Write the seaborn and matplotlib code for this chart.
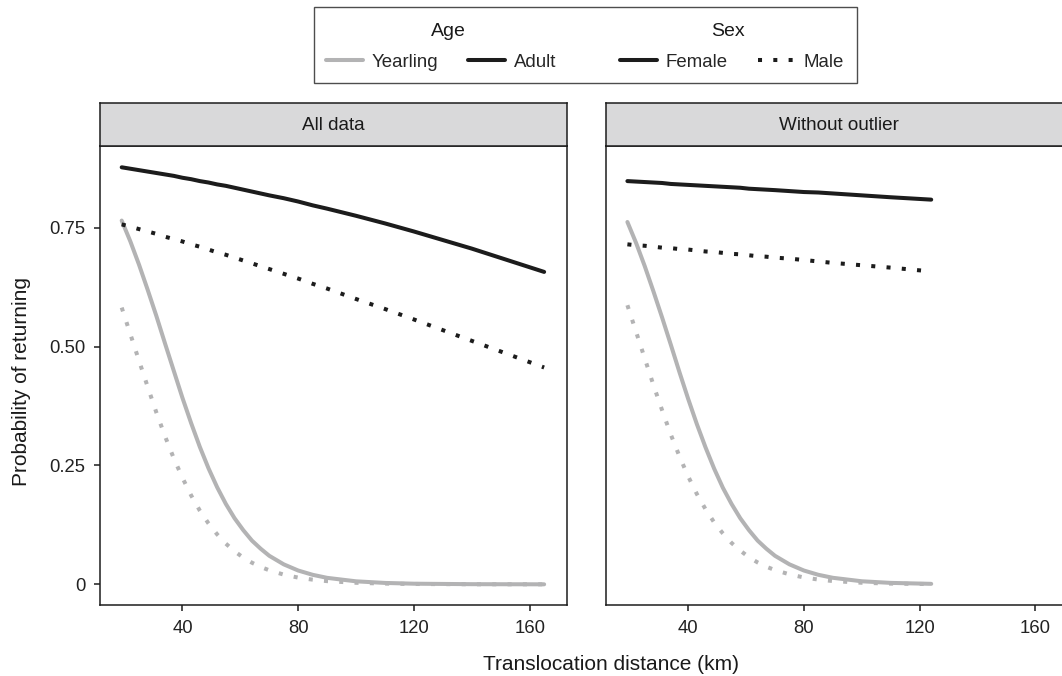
import pandas as pd
import seaborn as sns
import matplotlib.pyplot as plt
from matplotlib.lines import Line2D
from matplotlib.patches import Rectangle

# distances (km) at which the fitted curves were read
dist_all = [19, 22, 25, 28, 31, 34, 37, 40, 43, 46, 49, 52, 55, 58, 61, 64, 67, 70,
            75, 80, 85, 90, 100, 110, 120, 140, 165]
dist_wo = [19, 22, 25, 28, 31, 34, 37, 40, 43, 46, 49, 52, 55, 58, 61, 64, 67, 70,
           75, 80, 85, 90, 100, 110, 124]

# All data
yearling_female_all = [0.765, 0.721, 0.672, 0.619, 0.564, 0.506, 0.449, 0.392, 0.339, 0.289,
                       0.244, 0.204, 0.169, 0.139, 0.114, 0.092, 0.075, 0.060, 0.042, 0.029,
                       0.020, 0.0136, 0.0063, 0.0029, 0.0013, 0.0003, 0.0]
yearling_male_all = [0.582, 0.526, 0.470, 0.415, 0.361, 0.311, 0.265, 0.224, 0.187, 0.155,
                     0.128, 0.105, 0.0855, 0.0695, 0.0563, 0.0455, 0.0366, 0.0295, 0.0204,
                     0.0141, 0.0098, 0.0067, 0.0032, 0.0015, 0.0007, 0.0001, 0.0]
adult_female_all = [0.877, 0.874, 0.871, 0.868, 0.865, 0.862, 0.859, 0.855, 0.852, 0.848,
                    0.845, 0.841, 0.838, 0.834, 0.830, 0.826, 0.822, 0.818, 0.812, 0.805,
                    0.797, 0.790, 0.775, 0.759, 0.742, 0.706, 0.657]
adult_male_all = [0.757, 0.752, 0.747, 0.742, 0.737, 0.731, 0.726, 0.721, 0.715, 0.710,
                  0.704, 0.698, 0.693, 0.687, 0.681, 0.675, 0.669, 0.663, 0.653, 0.643,
                  0.632, 0.622, 0.600, 0.579, 0.557, 0.512, 0.456]

# Without outlier
yearling_female_wo = [0.762, 0.718, 0.669, 0.616, 0.561, 0.504, 0.446, 0.390, 0.337, 0.288,
                      0.243, 0.203, 0.169, 0.139, 0.114, 0.092, 0.075, 0.060, 0.042, 0.029,
                      0.020, 0.0137, 0.0064, 0.003, 0.001]
yearling_male_wo = [0.587, 0.531, 0.475, 0.419, 0.366, 0.315, 0.269, 0.227, 0.190, 0.158,
                    0.130, 0.107, 0.087, 0.071, 0.057, 0.046, 0.037, 0.030, 0.021, 0.0144,
                    0.0100, 0.0069, 0.0033, 0.0015, 0.0005]
adult_female_wo = [0.848, 0.847, 0.846, 0.845, 0.844, 0.842, 0.841, 0.840, 0.839, 0.838,
                   0.837, 0.836, 0.835, 0.834, 0.832, 0.831, 0.830, 0.829, 0.827, 0.825,
                   0.824, 0.822, 0.818, 0.814, 0.809]
adult_male_wo = [0.715, 0.713, 0.712, 0.710, 0.708, 0.707, 0.705, 0.704, 0.702, 0.700,
                 0.699, 0.697, 0.695, 0.694, 0.692, 0.690, 0.689, 0.687, 0.685, 0.682,
                 0.679, 0.676, 0.671, 0.666, 0.658]

panels = ["All data", "Without outlier"]
y_ticks = [0, 0.25, 0.5, 0.75]
y_ticklabels = ["0", "0.25", "0.50", "0.75"]
x_ticks = [40, 80, 120, 160]

# long table
rows = []
series = [
    ("All data", dist_all, "Yearling", "Female", yearling_female_all),
    ("All data", dist_all, "Yearling", "Male", yearling_male_all),
    ("All data", dist_all, "Adult", "Female", adult_female_all),
    ("All data", dist_all, "Adult", "Male", adult_male_all),
    ("Without outlier", dist_wo, "Yearling", "Female", yearling_female_wo),
    ("Without outlier", dist_wo, "Yearling", "Male", yearling_male_wo),
    ("Without outlier", dist_wo, "Adult", "Female", adult_female_wo),
    ("Without outlier", dist_wo, "Adult", "Male", adult_male_wo),
]
for panel, xs, age, sex, ys in series:
    for x, y in zip(xs, ys):
        rows.append((panel, x, y, age, sex))
df = pd.DataFrame(rows, columns=["panel", "distance", "prob", "Age", "Sex"])

sns.set_style("white")
plt.rcParams["font.family"] = ["Liberation Sans", "DejaVu Sans"]

BLACK = "#1c1c1c"
GREY = "#b3b3b4"
palette = {"Yearling": GREY, "Adult": BLACK}
DOT = (1, 2.8)
dashes = {"Female": "", "Male": DOT}
LW = 2.9

W, H = 1062, 676
fig = plt.figure(figsize=(W / 100, H / 100), dpi=100)

panel_lefts = [100, 605.7]
panel_w = 467
top, bottom = 146, 605
strip_top = 103.3

for i, (name, left) in enumerate(zip(panels, panel_lefts)):
    ax = fig.add_axes([left / W, 1 - bottom / H, panel_w / W, (bottom - top) / H])
    sub = df[df["panel"] == name]
    sns.lineplot(data=sub, x="distance", y="prob", hue="Age", style="Sex",
                 hue_order=["Yearling", "Adult"], style_order=["Female", "Male"],
                 palette=palette, dashes=dashes, linewidth=LW, estimator=None,
                 legend=False, ax=ax)
    ax.set_xlim(11.5, 172.9)
    ax.set_ylim(-0.0435, 0.9218)
    ax.set_xticks(x_ticks)
    ax.set_xticklabels([str(t) for t in x_ticks])
    ax.set_yticks(y_ticks)
    ax.set_yticklabels(y_ticklabels)
    ax.set_xlabel("")
    ax.set_ylabel("")
    for s in ax.spines.values():
        s.set_color(BLACK)
        s.set_linewidth(1.1)
        s.set_visible(True)
    ax.tick_params(axis="both", length=4, width=1.1, color=BLACK, labelsize=13.3,
                   labelcolor="#222222", pad=6.5, direction="out")
    ax.tick_params(bottom=True, left=(i == 0), labelleft=(i == 0))

    # facet strip
    sax = fig.add_axes([left / W, 1 - top / H, panel_w / W, (top - strip_top) / H])
    sax.set_facecolor("#d9d9da")
    sax.set_xticks([])
    sax.set_yticks([])
    for s in sax.spines.values():
        s.set_color(BLACK)
        s.set_linewidth(1.1)
        s.set_visible(True)
    sax.text(0.5, 0.48, name, ha="center", va="center", fontsize=13.6,
             color="#1a1a1a", transform=sax.transAxes)

# axis titles
fig.text(611 / W, 1 - 670 / H, "Translocation distance (km)", ha="center",
         va="baseline", fontsize=15, color="#1a1a1a")
fig.text(21.7 / W, 1 - 381.7 / H, "Probability of returning", ha="center",
         va="center", rotation=90, fontsize=15, color="#1a1a1a")

# legend box
fig.patches.append(Rectangle((314 / W, 1 - 83 / H), 543 / W, 76 / H,
                             transform=fig.transFigure, fill=False,
                             edgecolor="#4d4d4d", linewidth=1.0))
fig.text(448 / W, 1 - 36 / H, "Age", ha="center", va="baseline", fontsize=14,
         color="#1a1a1a")
fig.text(728 / W, 1 - 36 / H, "Sex", ha="center", va="baseline", fontsize=14,
         color="#1a1a1a")

age_handles = [Line2D([], [], color=GREY, lw=LW), Line2D([], [], color=BLACK, lw=LW)]
sex_handles = [Line2D([], [], color=BLACK, lw=LW),
               Line2D([], [], color=BLACK, lw=LW, dashes=DOT)]
leg_kw = dict(loc="center left", ncol=2, frameon=False, fontsize=13.4,
              handlelength=2.0, handletextpad=0.45, columnspacing=1.6,
              borderpad=0, borderaxespad=0)
fig.legend(age_handles, ["Yearling", "Adult"], bbox_to_anchor=(326 / W, 1 - 62 / H), **leg_kw)
fig.legend(sex_handles, ["Female", "Male"], bbox_to_anchor=(620 / W, 1 - 62 / H), **leg_kw)

fig.savefig("out.png", dpi=100)
